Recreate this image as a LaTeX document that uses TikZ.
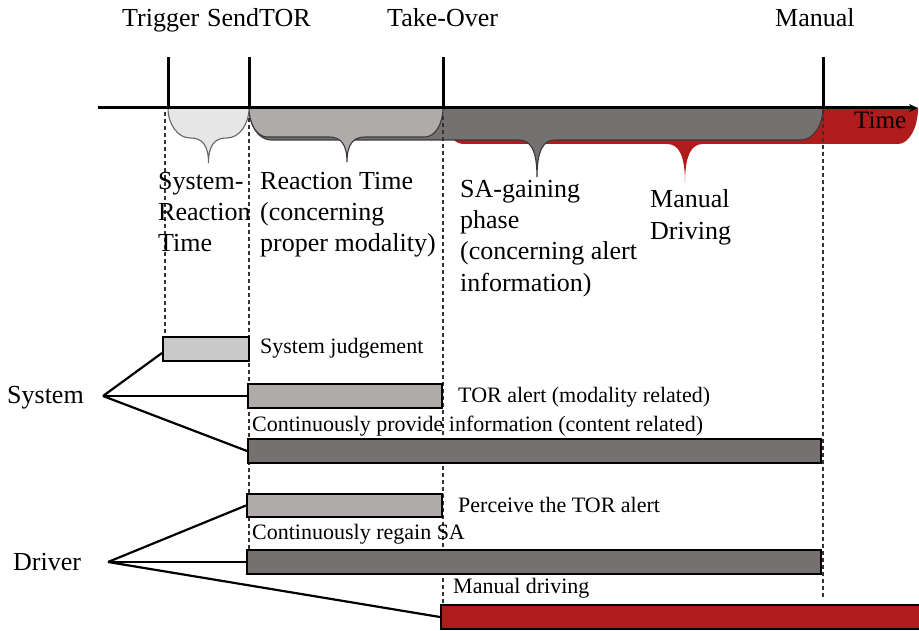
\documentclass[tikz,border=0pt]{standalone}
\usepackage{fontspec}
\setmainfont{Liberation Serif}
\usetikzlibrary{arrows.meta}
\definecolor{lightbr}{HTML}{E7E6E6}
\definecolor{sjfill}{HTML}{C9C9C9}
\definecolor{midgray}{HTML}{AFABAB}
\definecolor{darkgray}{HTML}{767171}
\definecolor{outl}{HTML}{3A3838}
\definecolor{myred}{HTML}{B01B1B}
\newcommand\mybrace[6]{%
 (#1,108) .. controls (#1,{108+0.55*(#3-108)}) and ({#1+0.45*#6},#3) .. ({#1+#6},#3)
 -- ({#4-18},#3) .. controls ({#4-7},#3) and (#4,{#3+0.25*(#5-#3)}) .. (#4,#5)
 .. controls (#4,{#3+0.25*(#5-#3)}) and ({#4+7},#3) .. ({#4+18},#3)
 -- ({#2-#6},#3) .. controls ({#2-0.45*#6},#3) and (#2,{108+0.55*(#3-108)}) .. (#2,108) -- cycle}
\tikzset{
 bigtxt/.style={font=\fontsize{26}{30}\selectfont, anchor=base west, inner sep=0pt},
 smalltxt/.style={font=\fontsize{22}{26}\selectfont, anchor=base west, inner sep=0pt},
 bar/.style={draw=black, line width=2pt, inner sep=0pt, anchor=north west},
 tickline/.style={line width=3pt},
 guide/.style={line width=1.1pt, dash pattern=on 4pt off 3pt, draw=black!80},
 fan/.style={line width=2.2pt},
 bracebox/.style={line width=1.1pt}
}
\begin{document}
\begin{tikzpicture}[x=1pt,y=-1pt]
\useasboundingbox (0,0) rectangle (919,631);
% braces
\fill[myred] \mybrace{443}{918}{144}{685}{183}{20};
\draw[bracebox, fill=darkgray, draw=outl] \mybrace{249}{823}{140}{537}{177}{22};
\draw[bracebox, fill=midgray, draw=outl] \mybrace{249}{443}{137}{347}{162}{18};
\draw[bracebox, fill=lightbr, draw=black!60] \mybrace{168}{249}{138}{208.5}{163}{22};
\node[font=\fontsize{25}{28}\selectfont, anchor=base west, inner sep=0pt] (time) at (854,129) {Time};
% axis and ticks
\coordinate (axstart) at (98,108);
\coordinate (axend) at (918,108);
\draw[tickline, -{Stealth[length=9pt,width=8pt]}] (axstart) -- (axend);
\coordinate (t1) at (168,108); \coordinate (t1top) at (168,57);
\coordinate (t2) at (249,108); \coordinate (t2top) at (249,57);
\coordinate (t3) at (443,108); \coordinate (t3top) at (443,57);
\coordinate (t4) at (823,108); \coordinate (t4top) at (823,57);
\draw[tickline] (t1) -- (t1top);
\draw[tickline] (t2) -- (t2top);
\draw[tickline] (t3) -- (t3top);
\draw[tickline] (t4) -- (t4top);
\node[bigtxt] (ltrig) at (122,27) {Trigger};
\node[bigtxt] (lsend) at (207,27) {SendTOR};
\node[bigtxt] (ltake) at (387,27) {Take-Over};
\node[bigtxt] (lman) at (775,27) {Manual};
% dashed guides
\coordinate (g1a) at (165,112); \coordinate (g1b) at (165,336);
\coordinate (g2a) at (249,118); \coordinate (g2b) at (249,549);
\coordinate (g3a) at (443,116); \coordinate (g3b) at (443,604);
\coordinate (g4a) at (823,110); \coordinate (g4b) at (823,597);
\draw[guide] (g1a) -- (g1b);
\draw[guide] (g2a) -- (g2b);
\draw[guide] (g3a) -- (g3b);
\draw[guide] (g4a) -- (g4b);
% phase texts
\node[bigtxt] (s1) at (158,190) {System-};
\node[bigtxt] (s2) at (158,221) {Reaction};
\node[bigtxt] (s3) at (158,252) {Time};
\node[bigtxt] (r1) at (260,190) {Reaction Time};
\node[bigtxt] (r2) at (260,221) {(concerning};
\node[bigtxt] (r3) at (260,252) {proper modality)};
\node[bigtxt] (a1) at (460,198) {SA-gaining};
\node[bigtxt] (a2) at (460,229) {phase};
\node[bigtxt] (a3) at (460,260) {(concerning alert};
\node[bigtxt] (a4) at (460,291) {information)};
\node[bigtxt] (m1) at (650,208) {Manual};
\node[bigtxt] (m2) at (650,240) {Driving};
% bars
\node[bar, fill=sjfill, minimum width=86pt, minimum height=24pt] (sj) at (162,336) {};
\node[bar, fill=midgray, minimum width=194pt, minimum height=24pt] (tor) at (247,383) {};
\node[bar, fill=darkgray, minimum width=573pt, minimum height=24pt] (cont) at (247,438) {};
\node[bar, fill=midgray, minimum width=195pt, minimum height=23pt] (perc) at (246,493) {};
\node[bar, fill=darkgray, minimum width=574pt, minimum height=24pt] (regain) at (246,549) {};
\node[bar, fill=myred, minimum width=490pt, minimum height=24pt] (mandr) at (440,604) {};
% bar labels
\node[smalltxt] (lsj) at (260,353) {System judgement};
\node[smalltxt] (ltor) at (458,402) {TOR alert (modality related)};
\node[smalltxt] (lcont) at (252,431) {Continuously provide information (content related)};
\node[smalltxt] (lperc) at (458,512) {Perceive the TOR alert};
\node[smalltxt] (lreg) at (252,539) {Continuously regain SA};
\node[smalltxt] (lmd) at (453,593) {Manual driving};
% actors
\node[bigtxt] (system) at (7,403) {System};
\node[bigtxt] (driver) at (13,570) {Driver};
\coordinate (sysapex) at (103,396);
\coordinate (drvapex) at (108,562);
\draw[fan] (sysapex) -- ([yshift=-4pt]sj.west);
\draw[fan] (sysapex) -- (tor.west);
\draw[fan] (sysapex) -- (cont.west);
\draw[fan] (drvapex) -- (perc.west);
\draw[fan] (drvapex) -- (regain.west);
\draw[fan] (drvapex) -- (mandr.west);
\end{tikzpicture}
\end{document}
